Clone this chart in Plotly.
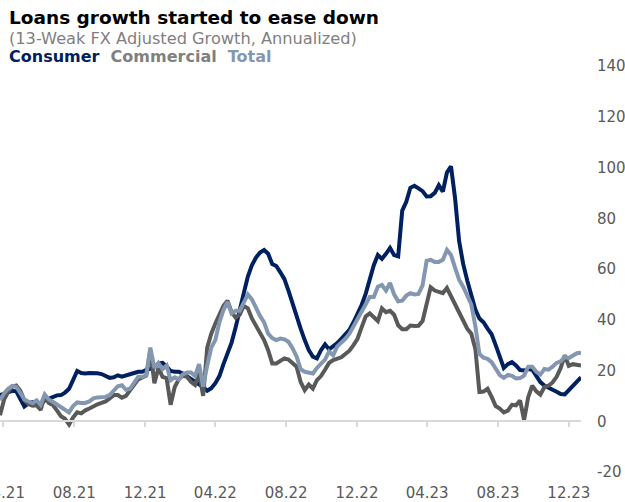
import pandas as pd
import plotly.graph_objects as go

# Weekly observations, 13-week FX adjusted growth (annualized, %)
weeks = pd.date_range("2021-03-26", periods=144, freq="7D")

consumer = [
    10.3, 10.8, 11.3, 12.0, 11.8, 8.5, 5.8, 7.0, 7.5, 7.0,
    6.5, 8.2, 8.8, 9.6, 10.2, 10.3, 11.3, 12.8, 16.0, 19.8,
    19.0, 18.8, 19.0, 19.1, 18.9, 18.6, 17.8, 17.1, 17.3, 18.1,
    17.6, 18.2, 18.5, 19.0, 19.5, 19.5, 20.2, 20.6, 21.2, 22.8,
    23.0, 21.6, 19.8, 19.5, 19.5, 18.8, 17.8, 16.9, 15.9, 14.9,
    13.5, 12.0, 13.0, 15.0, 17.8, 22.5, 26.5, 31.0, 37.0, 43.0,
    50.5, 57.0, 61.5, 64.5, 66.5, 67.5, 66.0, 62.0, 61.2, 58.7,
    56.0, 51.5, 46.2, 41.5, 36.5, 32.0, 28.0, 25.5, 24.8, 28.0,
    30.3, 28.3, 29.5, 30.8, 32.5, 34.2, 36.0, 39.0, 42.0, 45.8,
    50.2, 56.5, 61.5, 65.5, 64.0, 66.0, 68.3, 65.5, 65.0, 83.0,
    86.5, 92.0, 92.8, 91.8, 90.7, 88.6, 88.7, 90.0, 93.0, 90.5,
    98.0, 100.5, 88.0, 71.0, 62.0, 55.5, 49.5, 44.0, 40.5, 39.0,
    36.5, 34.3, 30.0, 25.5, 21.0, 22.5, 23.3, 22.0, 20.2, 20.0,
    20.6, 20.3, 17.5, 15.4, 14.1, 13.1, 12.4, 11.6, 10.7, 10.6,
    12.4, 14.0, 15.8, 17.3,
]

commercial = [
    2.4, 8.5, 11.5, 13.7, 14.1, 12.0, 8.3, 6.8, 6.1, 6.3,
    4.5, 10.0, 7.2, 6.4, 4.3, 2.0, 1.0, -1.3, 1.5, 3.5,
    3.1, 4.3, 5.0, 6.0, 6.7, 7.2, 7.8, 9.0, 10.3, 10.3,
    9.3, 10.0, 12.0, 14.5, 16.5, 17.3, 18.0, 28.0, 15.0, 21.0,
    17.5, 17.0, 6.5, 13.5, 16.5, 18.0, 17.5, 15.5, 14.3, 19.0,
    10.0, 29.0, 34.5, 38.5, 42.0, 45.5, 47.5, 43.0, 40.8, 42.0,
    45.5, 44.5, 40.5, 37.8, 35.0, 32.0, 28.0, 22.8, 22.8, 24.0,
    24.8, 24.3, 23.0, 21.5, 15.5, 12.3, 14.5, 12.9, 16.2, 17.8,
    20.3, 23.0, 24.1, 24.8, 25.2, 26.5, 27.8, 30.0, 32.5, 37.0,
    41.3, 42.5, 41.0, 39.5, 44.5, 43.0, 43.5, 42.0, 37.8, 36.3,
    36.3, 37.7, 37.5, 37.6, 39.5, 46.5, 52.8, 51.5, 50.9, 50.5,
    52.5, 49.5, 46.5, 43.5, 39.7, 36.5, 34.5, 28.5, 11.5, 11.7,
    12.8, 9.6, 6.0, 5.0, 3.5, 4.2, 6.5, 6.3, 8.2, 0.5,
    9.5, 14.0, 11.8, 10.5, 13.5, 14.0, 15.3, 17.5, 21.0, 26.0,
    21.8, 22.5, 22.4, 22.0,
]

total = [
    8.3, 11.0, 12.8, 13.9, 13.6, 11.2, 8.6, 7.8, 7.1, 8.2,
    6.5, 10.6, 8.6, 7.7, 6.6, 5.5, 4.5, 3.5, 6.0, 7.4,
    7.2, 7.2, 7.8, 9.0, 9.4, 9.6, 9.6, 10.3, 11.8, 13.8,
    14.2, 12.4, 12.8, 15.5, 17.5, 17.5, 18.1, 29.0, 21.0, 23.0,
    20.5, 22.0, 16.2, 17.3, 16.5, 18.5, 19.2, 19.2, 17.8, 22.5,
    13.6, 22.0, 29.0, 32.0, 39.0, 43.8, 47.0, 42.5, 43.5, 43.5,
    46.5, 50.0, 48.0, 44.3, 41.5, 39.0, 34.5, 32.8, 32.0, 32.6,
    32.3, 31.3, 28.8, 25.5, 20.5, 19.5, 19.0, 18.8, 21.0, 22.5,
    24.3, 27.5, 26.0, 29.5, 30.8, 32.5, 34.5, 37.5, 40.3, 43.2,
    46.5, 49.0, 49.0, 53.0, 53.7, 51.5, 54.5, 50.0, 47.3, 47.5,
    49.5, 50.5, 50.0, 50.2, 53.5, 63.2, 63.6, 62.8, 62.8, 63.6,
    67.5, 65.5, 60.5, 55.8, 53.0, 49.5, 46.0, 37.5, 26.5, 25.0,
    24.6, 23.3, 20.5, 18.2, 17.1, 18.3, 17.9, 16.9, 17.0, 18.0,
    21.5, 21.5, 19.5, 18.4, 20.6, 20.3, 21.5, 23.0, 23.6, 25.4,
    24.9, 26.0, 26.8, 27.0,
]

tick_dates = pd.date_range("2021-04-01", "2023-12-01", freq="4MS")
y_ticks = [-20, 0, 20, 40, 60, 80, 100, 120, 140]
y_tick_labels = ["-20", "0", "20", "40", "60", "80", "100", "120", "140"]

NAVY = "#002060"
GRAY = "#595959"
STEEL = "#8497b0"
FONT = "DejaVu Sans"

W, H = 625, 502
M_L, M_R, M_T, M_B = 0, 44, 66, 30
plot_w = W - M_L - M_R
plot_h = H - M_T - M_B


def px_x(x):
    return (x - M_L) / plot_w


def px_y(y):
    return (H - M_B - y) / plot_h


fig = go.Figure()
fig.add_trace(go.Scatter(x=weeks, y=consumer, mode="lines", name="Consumer",
                         line=dict(color=NAVY, width=4), xaxis="x", yaxis="y"))
fig.add_trace(go.Scatter(x=weeks, y=commercial, mode="lines", name="Commercial",
                         line=dict(color=GRAY, width=4), xaxis="x", yaxis="y"))
fig.add_trace(go.Scatter(x=weeks, y=total, mode="lines", name="Total",
                         line=dict(color=STEEL, width=4), xaxis="x2", yaxis="y"))

x_range = [weeks[0], weeks[-1]]
y_range = [-20, 140]

fig.update_layout(
    width=W, height=H,
    margin=dict(l=M_L, r=M_R, t=M_T, b=M_B, pad=0, autoexpand=False),
    paper_bgcolor="white", plot_bgcolor="white",
    showlegend=False,
    font=dict(family=FONT, color="#595959"),
    xaxis=dict(
        type="date", range=x_range, automargin=False,
        tickvals=list(tick_dates), tickformat="%m.%y",
        showgrid=False, zeroline=False, showline=False, ticks="",
        tickfont=dict(family=FONT, size=15, color="#595959"),
        ticklabelstandoff=10, ticklabeloverflow="allow",
    ),
    # category axis drawn along the zero line, with tick marks only
    xaxis2=dict(
        type="date", range=x_range, overlaying="x", anchor="free",
        automargin=False,
        position=(0 - y_range[0]) / (y_range[1] - y_range[0]),
        tickvals=list(tick_dates), showticklabels=False,
        showgrid=False, zeroline=False,
        showline=True, linecolor="#d9d9d9", linewidth=2,
        ticks="outside", ticklen=5, tickwidth=2, tickcolor="#d9d9d9",
    ),
    yaxis=dict(
        range=y_range, tickvals=y_ticks, ticktext=y_tick_labels,
        side="right", automargin=False,
        showgrid=False, zeroline=False, showline=False, ticks="",
        tickfont=dict(family=FONT, size=15, color="#595959"),
        ticklabelstandoff=15,
    ),
)

fig.add_annotation(
    text="<b>Loans growth started to ease down</b>",
    xref="paper", yref="paper", x=px_x(7), y=px_y(17),
    xanchor="left", yanchor="middle", showarrow=False,
    font=dict(family=FONT, size=18.5, color="#000000"),
)
fig.add_annotation(
    text="(13-Weak FX Adjusted Growth, Annualized)",
    xref="paper", yref="paper", x=px_x(7), y=px_y(38),
    xanchor="left", yanchor="middle", showarrow=False,
    font=dict(family=FONT, size=16.2, color="#7f7f7f"),
)
fig.add_annotation(
    text=(f"<b><span style='color:{NAVY}'>Consumer</span>  "
          f"<span style='color:#808080'>Commercial</span>  "
          f"<span style='color:{STEEL}'>Total</span></b>"),
    xref="paper", yref="paper", x=px_x(7), y=px_y(57),
    xanchor="left", yanchor="middle", showarrow=False,
    font=dict(family=FONT, size=16),
)

fig.write_html("out.html")
